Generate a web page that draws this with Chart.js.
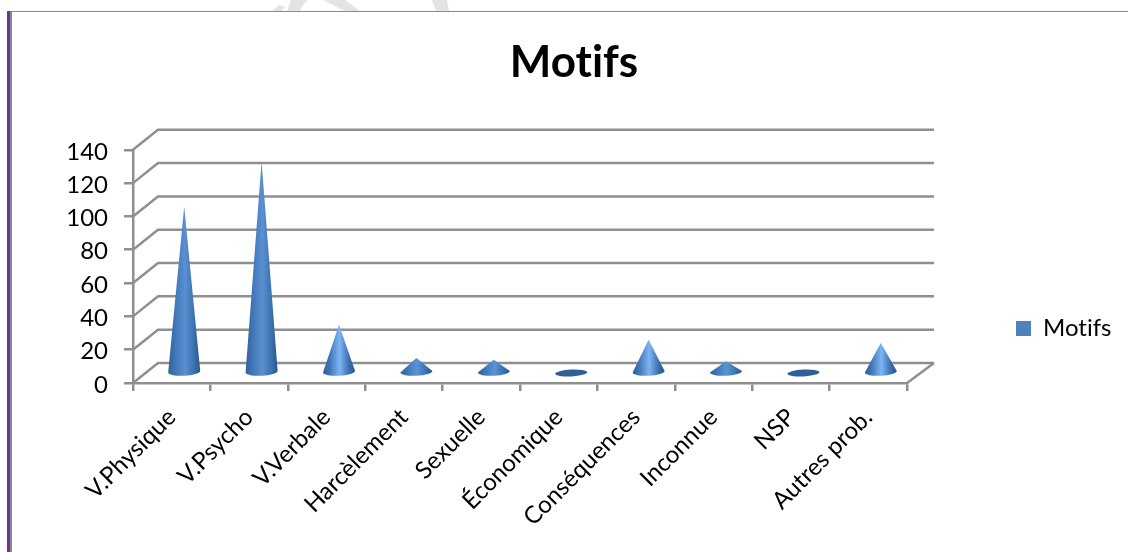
<!DOCTYPE html>
<html>
<head>
<meta charset="utf-8">
<title>Motifs</title>
<script src="https://cdn.jsdelivr.net/npm/chart.js@4"></script>
<style>
  html, body { margin: 0; padding: 0; background: #fff; overflow: hidden; }
  #wrap { position: relative; width: 1128px; height: 552px; }
  #chart { position: absolute; left: 0; top: 0; }
  /* page frame of the scanned document */
  #mark { position: absolute; left: 0; top: 0; }
  #topLine { position: absolute; left: 7px; right: 0; top: 11px; height: 1px; background: #8a8a8a; }
  #purple { position: absolute; left: 7px; top: 11px; bottom: 0; width: 3px; background: #7030a0; }
  #grey { position: absolute; left: 10px; top: 11px; bottom: 0; width: 2px; background: #8a8a8a; }
</style>
</head>
<body>
<div id="wrap">
  <svg id="mark" width="1128" height="11">
    <path fill="#e4e4e4" d="M272 11 L279 5 L285 7 L282 11 Z M291 0 L308 0 L303 5 L300 11 L287 11 Z M323 0 L345 0 L360 11 L345 11 Z M432 0 L447 0 L449 11 L436 11 Z"/>
  </svg>
  <canvas id="chart" width="1128" height="552"></canvas>
  <div id="topLine"></div>
  <div id="purple"></div>
  <div id="grey"></div>
</div>
<script>
// --- Data ---
const categories = ['V.Physique', 'V.Psycho', 'V.Verbale', 'Harcèlement', 'Sexuelle',
                    'Économique', 'Conséquences', 'Inconnue', 'NSP', 'Autres prob.'];
const seriesName = 'Motifs';
const motifs = [100, 127, 29, 9, 8, 0, 20, 7, 0, 18];
const yTicks = [0, 20, 40, 60, 80, 100, 120, 140];

// --- Look ---
const FONT = 'Lato, "Open Sans", sans-serif';
const LINE = '#8f8f8f';
const DEPTH_X = 25, DEPTH_Y = 20;   // how far the back wall sits from the front axes

// Bars drawn as cones, from the geometry the bar controller already worked out
class ConeController extends Chart.BarController {
  draw() {
    const c = this.chart.ctx;
    this.getMeta().data.forEach(bar => {
      const x = bar.x + DEPTH_X / 2;
      const baseY = bar.base - DEPTH_Y / 2;
      const tipY = bar.y - DEPTH_Y / 2;
      const rx = bar.width / 2;
      const ry = rx / 4;
      const tilt = -0.05;
      const height = baseY - tipY;

      c.save();
      if (height < 1) {
        c.fillStyle = '#2f5f96';
        c.beginPath();
        c.ellipse(x, baseY, rx, ry * 0.85, tilt, 0, Math.PI * 2);
        c.fill();
        c.restore();
        return;
      }
      // the highlight depends on how tall the cone is
      let mid = '#5a8fd2';
      if (height < 60) mid = '#7db4f4';
      if (height < 20) mid = '#5a93d8';
      const g = c.createLinearGradient(x - rx, 0, x + rx, 0);
      g.addColorStop(0, '#2f5f98');
      g.addColorStop(0.2, '#3f75b5');
      g.addColorStop(0.52, mid);
      g.addColorStop(0.8, '#3d72b0');
      g.addColorStop(1, '#2a5587');
      c.fillStyle = g;
      c.beginPath();
      c.moveTo(x, tipY);
      c.lineTo(x + rx, baseY + rx * Math.sin(tilt));
      c.ellipse(x, baseY, rx, ry, tilt, 0, Math.PI);
      c.closePath();
      c.fill();
      c.restore();
    });
  }
}
ConeController.id = 'cone';
ConeController.defaults = Chart.BarController.defaults;
ConeController.overrides = Chart.BarController.overrides;
Chart.register(ConeController);

// Back wall and floor lines follow the y scale
const wallPlugin = {
  id: 'wall',
  beforeDatasetsDraw(chart) {
    const c = chart.ctx;
    const { left, right } = chart.chartArea;
    const y = chart.scales.y;
    c.save();
    c.strokeStyle = LINE;
    c.lineWidth = 2.5;
    yTicks.forEach(v => {
      const py = y.getPixelForValue(v);
      c.beginPath();
      c.moveTo(left, py);
      c.lineTo(left + DEPTH_X, py - DEPTH_Y);
      c.lineTo(right + DEPTH_X + 2, py - DEPTH_Y);
      c.stroke();
    });
    const floor = y.getPixelForValue(0);
    c.beginPath();
    c.moveTo(right, floor);
    c.lineTo(right + DEPTH_X + 2, floor - DEPTH_Y);
    c.stroke();
    c.restore();
  }
};

// Legend sits on its own to the right, below the middle of the chart
const legendPlacePlugin = {
  id: 'legendPlace',
  afterLayout(chart) {
    const l = chart.legend;
    const w = l.width, h = l.height;
    l.left = 1006; l.right = l.left + w;
    l.top = 212; l.bottom = l.top + h;
  },
  beforeDraw(chart) {
    // no "ti" ligature in the labels
    chart.ctx.textRendering = 'optimizeSpeed';
  }
};

const chart = new Chart(document.getElementById('chart'), {
  type: 'cone',
  data: {
    labels: categories,
    datasets: [{
      label: seriesName,
      data: motifs,
      backgroundColor: '#4f81bd',
      borderWidth: 0,
      categoryPercentage: 1,
      barPercentage: 0.414,
      clip: false
    }]
  },
  plugins: [wallPlugin, legendPlacePlugin],
  options: {
    responsive: false,
    animation: false,
    layout: { padding: { left: 20, right: 0, top: 0, bottom: 0 } },
    scales: {
      x: {
        grid: { drawOnChartArea: false, color: LINE, lineWidth: 2.5, tickLength: 8, offset: true },
        border: { color: LINE, width: 2.5 },
        ticks: {
          color: '#000',
          font: { family: FONT, size: 24 },
          minRotation: 45, maxRotation: 45,
          padding: 12,
          autoSkip: false
        },
        afterFit(s) { s.height = 169; }
      },
      y: {
        min: 0, max: 140,
        grid: { drawOnChartArea: false, color: LINE, lineWidth: 2.5, tickLength: 9 },
        border: { color: LINE, width: 2.5 },
        ticks: {
          color: '#000',
          font: { family: FONT, size: 24 },
          stepSize: 20,
          padding: 16,
          labelOffset: 2
        },
        afterFit(s) { s.width = 113; }
      },
      // empty axis, only keeps the room on the right for depth and legend
      side: {
        position: 'right',
        grid: { display: false },
        border: { display: false },
        ticks: { display: false },
        afterFit(s) { s.width = 221; }
      }
    },
    plugins: {
      title: {
        display: true,
        text: 'Motifs',
        color: '#000',
        font: { family: FONT, size: 44, weight: 'bold' },
        padding: { top: 36, bottom: 61 }
      },
      legend: {
        position: 'chartArea',
        labels: {
          color: '#000',
          font: { family: FONT, size: 24 },
          boxWidth: 15,
          boxHeight: 15,
          padding: 10
        }
      },
      tooltip: { enabled: false }
    }
  }
});
</script>
</body>
</html>
